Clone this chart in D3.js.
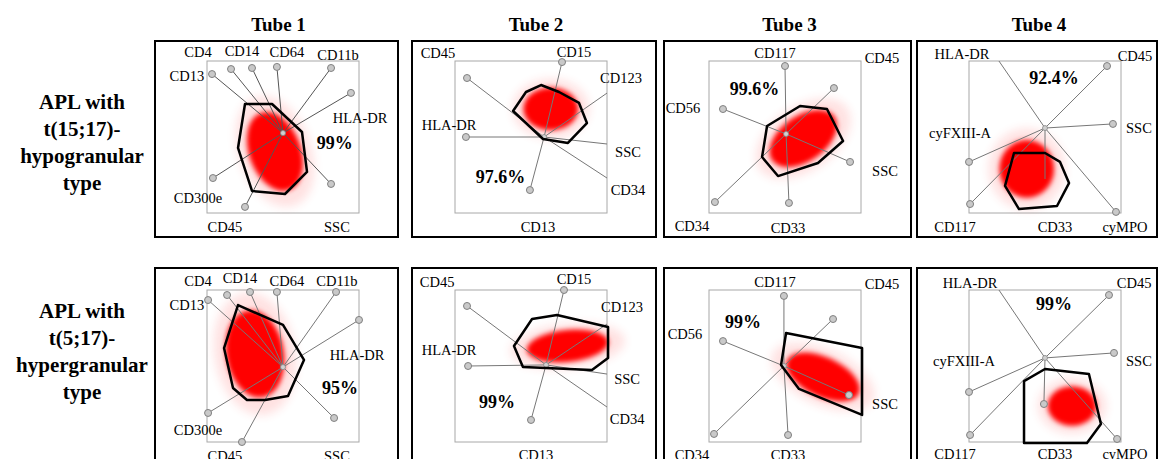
<!DOCTYPE html>
<html>
<head>
<meta charset="utf-8">
<script src="https://cdn.jsdelivr.net/npm/d3@7"></script>
<style>
  body { margin: 0; background: #fff; }
  svg { display: block; }
</style>
</head>
<body>
<svg id="chart" width="1158" height="459"></svg>
<script>
// ---- data (radar coordinates in % of each inner box, 0..100) ----
const tubeTitles = ["Tube 1", "Tube 2", "Tube 3", "Tube 4"];
const rowLabels = [
  ["APL with", "t(15;17)-", "hypogranular", "type"],
  ["APL with", "t(5;17)-", "hypergranular", "type"]
];
const percents = ["99%", "97.6%", "99.6%", "92.4%", "95%", "99%", "99%", "99%"];
const pctPos = [[84, 54], [30, 76], [30, 18], [56, 11], [87.5, 64.5], [27.6, 73.7], [22.4, 21.1], [55.9, 9.2]];

// spoke hub of every panel
const hubs = [[50, 47.4], [58.6, 50], [50.7, 48], [50, 44.1], [50, 50.7], [59.9, 49.3], [49.3, 50], [50, 44.7]];

// [marker, end x, end y, label x, label y, has dot]
const markers = [
  [["CD13", 3.3, 8.6, -13.2, 9.9, 1], ["CD4", 15.8, 5.3, -5.9, -5.9, 1], ["CD14", 29.6, 4.6, 23, -6.6, 1],
   ["CD64", 46, 3.9, 52.6, -5.9, 1], ["CD11b", 81.6, 4.6, 86.2, -3.9, 1], ["HLA-DR", 94.7, 21, 100.7, 37.5, 1],
   ["SSC", 81.6, 80.9, 85.5, 109.2, 1], ["CD45", 25, 96, 11.8, 109.2, 1], ["CD300e", 3.9, 77, -5.9, 90.1, 1]],
  [["CD45", 7.9, 11.2, -11.2, -5.3, 1], ["CD15", 70.4, 0.7, 78.3, -5.9, 1], ["CD123", 100, 21.1, 109.2, 11.2, 0],
   ["HLA-DR", 7.2, 50, -3.9, 42.1, 1], ["SSC", 100, 54.6, 113.8, 59.9, 0], ["CD34", 100, 77, 113.8, 84.9, 0],
   ["CD13", 49.3, 84.9, 54.6, 109.2, 1]],
  [["CD117", 50, 3.3, 43.4, -5.3, 1], ["CD45", 82.2, 17.8, 113.8, -2, 1], ["CD56", 9.2, 31.6, -17.1, 30.9, 1],
   ["SSC", 92.8, 66.4, 115.8, 72.4, 1], ["CD33", 52.6, 93.4, 52, 109.9, 1], ["CD34", 3.9, 92.8, -11.2, 108.6, 1]],
  [["HLA-DR", 19.7, 0, -4.6, -4.6, 0], ["CD45", 90.8, 3.3, 109.2, -3.3, 1], ["SSC", 94.7, 41.4, 111.8, 44.1, 1],
   ["cyMPO", 96.7, 99.3, 102.6, 109.2, 1], ["CD33", 50, 77.6, 56.6, 109.2, 0], ["cyFXIII-A", 0, 66.4, -5.9, 47.4, 1],
   ["CD117", 0.7, 94.1, -9.2, 109.2, 1]],
  [["CD13", 0.7, 6.6, -13.2, 9.9, 1], ["CD4", 13.2, 3.3, -5.9, -5.9, 1], ["CD14", 28.3, 1.3, 21.7, -7.9, 1],
   ["CD64", 46, 1.3, 52.6, -5.9, 1], ["CD11b", 84.9, 1.3, 85.5, -5.9, 1], ["HLA-DR", 100, 19.7, 98.7, 42.8, 1],
   ["SSC", 83.6, 84.2, 85.5, 109.2, 1], ["CD45", 23, 100, 11.8, 109.2, 1], ["CD300e", 0.7, 80.9, -5.9, 92.1, 1]],
  [["CD45", 7.9, 10.5, -11.8, -5.3, 1], ["CD15", 71.7, 0, 78.3, -7.2, 1], ["CD123", 100, 22.4, 109.9, 11.2, 0],
   ["HLA-DR", 8.6, 50, -3.9, 39.5, 1], ["SSC", 100, 55.3, 113.2, 58.6, 0], ["CD34", 100, 77, 113.2, 84.9, 0],
   ["CD13", 50, 85.5, 53.3, 108.6, 1]],
  [["CD117", 49.3, 3.9, 43.4, -5.3, 1], ["CD45", 81.6, 19.1, 113.8, -3.9, 1], ["CD56", 9.2, 33.6, -15.8, 28.9, 1],
   ["SSC", 92.1, 69.1, 115.8, 75, 1], ["CD33", 52, 95.4, 52, 108.6, 1], ["CD34", 3.3, 94.7, -11.2, 108.6, 1]],
  [["HLA-DR", 19.7, 0, 0.7, -4.6, 0], ["CD45", 92.1, 3.3, 108.6, -4.6, 1], ["SSC", 95.4, 41.4, 111.8, 46.7, 1],
   ["cyMPO", 97.4, 98, 102.6, 107.9, 1], ["CD33", 49.3, 75, 56.6, 107.9, 1], ["cyFXIII-A", 0, 67.1, -3.3, 46.7, 1],
   ["CD117", 0.7, 95.4, -9.2, 107.9, 1]]
];

// gate polygons
const gates = [
  [[25, 28.3], [42.8, 28.3], [62.5, 46.7], [65.8, 73], [51.3, 87.5], [29.6, 85.5], [20.4, 57.2]],
  [[38.2, 32.9], [46.7, 20.4], [56.6, 15.8], [68.4, 20.4], [81.6, 27.6], [86.8, 40.8], [74.3, 53.9], [57.9, 51.3]],
  [[38.2, 42.8], [59.9, 29.6], [77.6, 31.6], [88.2, 52.6], [71.7, 67.1], [45.4, 75.7], [34.9, 63.2]],
  [[29.6, 60.5], [50, 60.5], [59.9, 66.4], [65.8, 80.3], [57.9, 95.4], [32.9, 97.4], [23.7, 82.2]],
  [[20.4, 9.9], [50, 23], [63.8, 46], [53.3, 69.7], [38.2, 72.4], [26.3, 72.4], [17.1, 64.5], [11.2, 38.2]],
  [[38.8, 36.8], [50.7, 19.1], [67.1, 16.4], [100.7, 24.3], [100.7, 44.7], [90.1, 52.6], [44.7, 50.7]],
  [[50.7, 28.3], [100.7, 38.2], [100.7, 82.2], [59.2, 65.1], [47.4, 49.3]],
  [[36.2, 59.9], [50, 52], [78.9, 55.3], [86.8, 88.2], [77.6, 100.7], [36.2, 100.7]]
];

// event cloud: [cx, cy, rx, ry, angle]
const clouds = [
  [44.7, 59.5, 17, 27, -20], [63, 31.5, 18, 14, 0], [62, 51, 25, 15, -35], [38, 71, 18, 19, 0],
  [31.6, 42, 19, 29, -10], [74, 36.8, 27, 10.5, -6], [75, 57.2, 26, 13, 25], [67.8, 76.3, 16, 13, 0]
];

// ---- layout ----
const boxX = [207, 455, 709, 969];
const boxY = [61, 290];
const boxSize = 152;
const frameX = [[155, 398], [412, 656], [664, 911], [917, 1157]];
const frameY = [[41, 237], [268, 472]];
const serif = "Liberation Serif, Times New Roman, serif";

const svg = d3.select("#chart").style("font-family", serif);

const defs = svg.append("defs");
defs.append("filter").attr("id", "blurCore").attr("x", "-50%").attr("y", "-50%").attr("width", "200%").attr("height", "200%")
  .append("feGaussianBlur").attr("stdDeviation", 2.5);
defs.append("filter").attr("id", "blurHalo").attr("x", "-50%").attr("y", "-50%").attr("width", "200%").attr("height", "200%")
  .append("feGaussianBlur").attr("stdDeviation", 5);

// titles
svg.selectAll(".tube-title").data(tubeTitles).enter().append("text")
  .attr("class", "tube-title")
  .attr("x", (d, i) => (frameX[i][0] + frameX[i][1]) / 2 + 2)
  .attr("y", 31)
  .attr("text-anchor", "middle")
  .attr("font-family", serif)
  .style("font-weight", "bold").style("font-size", "19px")
  .text(d => d);

rowLabels.forEach((lines, r) => {
  const top = r === 0 ? 102 : 311;
  svg.append("g").selectAll("text").data(lines).enter().append("text")
    .attr("x", 82)
    .attr("y", (d, k) => top + k * 27)
    .attr("dy", "0.35em")
    .attr("text-anchor", "middle")
    .attr("font-family", serif)
    .style("font-weight", "bold").style("font-size", "21px")
    .text(d => d);
});

// panels
percents.forEach((pct, i) => {
  const row = Math.floor(i / 4), col = i % 4;
  const x = d3.scaleLinear().domain([0, 100]).range([boxX[col], boxX[col] + boxSize]);
  const y = d3.scaleLinear().domain([0, 100]).range([boxY[row], boxY[row] + boxSize]);
  const g = svg.append("g").attr("class", "panel-" + i);

  g.append("rect")
    .attr("x", frameX[col][0]).attr("y", frameY[row][0])
    .attr("width", frameX[col][1] - frameX[col][0]).attr("height", frameY[row][1] - frameY[row][0])
    .attr("fill", "none").attr("stroke", "#000").attr("stroke-width", 2);

  g.append("rect")
    .attr("x", x(0)).attr("y", y(0))
    .attr("width", x(100) - x(0)).attr("height", y(100) - y(0))
    .attr("fill", "none").attr("stroke", "#a8a8a8").attr("stroke-width", 1);

  // cloud
  const [cx, cy, rx, ry, ang] = clouds[i];
  const cloud = g.append("g")
    .attr("transform", `translate(${x(cx)},${y(cy)}) rotate(${ang})`);
  cloud.append("ellipse")
    .attr("rx", (x(rx) - x(0)) * 1.4).attr("ry", (y(ry) - y(0)) * 1.4)
    .attr("fill", "#ff3030").attr("opacity", 0.14).attr("filter", "url(#blurHalo)");
  cloud.append("ellipse")
    .attr("rx", x(rx) - x(0)).attr("ry", y(ry) - y(0))
    .attr("fill", "#ff0000").attr("filter", "url(#blurCore)");

  // spokes
  const hub = hubs[i];
  g.selectAll(".spoke").data(markers[i]).enter().append("line")
    .attr("class", "spoke")
    .attr("x1", x(hub[0])).attr("y1", y(hub[1]))
    .attr("x2", d => x(d[1])).attr("y2", d => y(d[2]))
    .attr("stroke", i === 0 ? "#555" : "#777").attr("stroke-width", 1);

  g.selectAll(".dot").data(markers[i].filter(d => d[5])).enter().append("circle")
    .attr("class", "dot")
    .attr("cx", d => x(d[1])).attr("cy", d => y(d[2]))
    .attr("r", 3.5)
    .attr("fill", "#c9c9c9").attr("stroke", "#808080").attr("stroke-width", 1);

  g.append("circle")
    .attr("cx", x(hub[0])).attr("cy", y(hub[1])).attr("r", 2.5)
    .attr("fill", "#d0d0d0").attr("stroke", "#888").attr("stroke-width", 0.8);

  // gate
  g.append("path")
    .attr("d", d3.line().x(d => x(d[0])).y(d => y(d[1]))(gates[i]) + "Z")
    .attr("fill", "none").attr("stroke", "#000").attr("stroke-width", 2.5)
    .attr("stroke-linejoin", "round");

  // labels
  g.selectAll(".mlabel").data(markers[i]).enter().append("text")
    .attr("class", "mlabel")
    .attr("x", d => x(d[3])).attr("y", d => y(d[4]))
    .attr("dy", "0.35em")
    .attr("text-anchor", "middle")
    .attr("font-family", serif)
    .style("font-size", "14.5px")
    .text(d => d[0]);

  g.append("text")
    .attr("x", x(pctPos[i][0])).attr("y", y(pctPos[i][1]))
    .attr("dy", "0.35em")
    .attr("text-anchor", "middle")
    .attr("font-family", serif)
    .style("font-weight", "bold").style("font-size", "18px")
    .text(pct);
});
</script>
</body>
</html>
